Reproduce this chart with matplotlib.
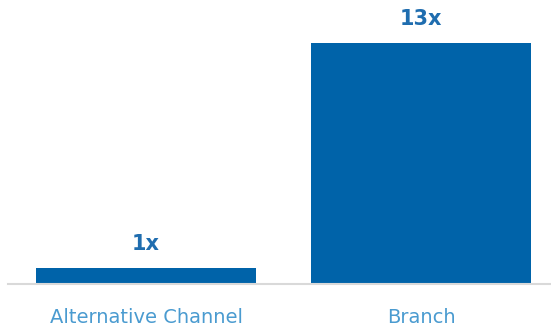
import matplotlib.pyplot as plt

categories = ["Alternative Channel", "Branch"]
values = [1, 13]
value_labels = ["1x", "13x"]

bar_color = "#0063A9"
label_color = "#4A9BD0"
value_color = "#1F6DAF"

fig = plt.figure(figsize=(5.51, 3.30), dpi=100)
ax = fig.add_axes([8 / 551, 1 - 284 / 330, 543 / 551, 284 / 330])

x = list(range(len(categories)))
ax.bar(x, values, width=0.8, color=bar_color)

for xi, v, lab in zip(x, values, value_labels):
    ax.text(xi, v + 0.75, lab, ha="center", va="bottom", fontsize=15,
            fontweight="bold", color=value_color, family="DejaVu Sans")

ax.set_xlim(-0.502, 1.473)
ax.set_ylim(0.143, 15.3)

ax.set_xticks(x)
ax.set_xticklabels(categories, fontsize=14, color=label_color, family="DejaVu Sans")
ax.tick_params(axis="x", length=0, pad=17)
ax.set_yticks([])

for side in ["top", "right", "left"]:
    ax.spines[side].set_visible(False)
ax.spines["bottom"].set_color("#D9D9D9")
ax.spines["bottom"].set_linewidth(1.5)

fig.savefig("out.png", dpi=100)
